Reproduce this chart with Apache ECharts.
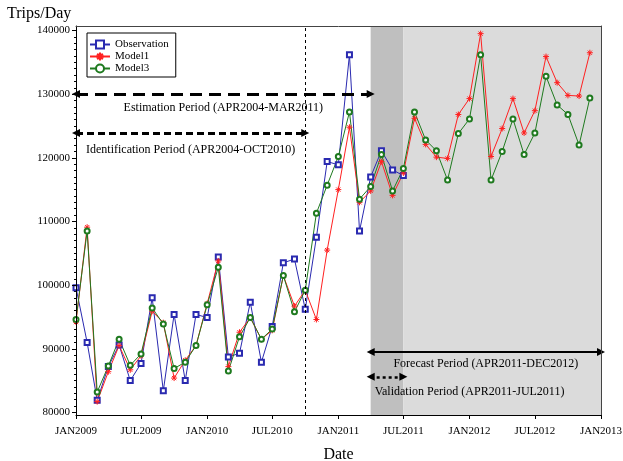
<!DOCTYPE html>
<html>
<head>
<meta charset="utf-8">
<script src="https://cdn.jsdelivr.net/npm/echarts@6/dist/echarts.min.js"></script>
<style>
html, body { margin: 0; padding: 0; background: #fff; }
#trips { width: 623px; height: 461px; }
</style>
</head>
<body>
<div id="trips"></div>
<script>
// monthly points, first of each month
var months = [
    '2009-01', '2009-02', '2009-03', '2009-04', '2009-05', '2009-06',
    '2009-07', '2009-08', '2009-09', '2009-10', '2009-11', '2009-12',
    '2010-01', '2010-02', '2010-03', '2010-04', '2010-05', '2010-06',
    '2010-07', '2010-08', '2010-09', '2010-10', '2010-11', '2010-12',
    '2011-01', '2011-02', '2011-03', '2011-04', '2011-05', '2011-06',
    '2011-07', '2011-08', '2011-09', '2011-10', '2011-11', '2011-12',
    '2012-01', '2012-02', '2012-03', '2012-04', '2012-05', '2012-06',
    '2012-07', '2012-08', '2012-09', '2012-10', '2012-11', '2012-12'
];

var observation = [
    99600, 91000, 81900, 87200, 90600, 85000, 87700, 98000, 83400, 95400, 85000, 95400,
    94900, 104400, 88700, 89300, 97300, 87900, 93500, 103500, 104100, 96200, 107500, 119400,
    118900, 136200, 108500, 117000, 121100, 118100, 117200
];

var model1 = [
    94200, 109100, 81700, 86400, 90500, 86700, 88900, 95900, 94100, 85400, 88200, 90500,
    97100, 103800, 87200, 92600, 94900, 91500, 92900, 101500, 96700, 99200, 94600, 105500,
    115000, 124800, 113000, 114800, 119400, 114100, 117600, 126200, 122100, 120100, 119900, 126800,
    129300, 139500, 120200, 124600, 129300, 123900, 127400, 135900, 131800, 129800, 129700, 136500
];

var model3 = [
    94600, 108500, 83200, 87300, 91500, 87400, 89200, 96400, 93900, 86900, 87900, 90500,
    96900, 102800, 86500, 91900, 94900, 91500, 93100, 101500, 95800, 99200, 111300, 115700,
    120200, 127200, 113500, 115500, 120500, 114800, 118300, 127200, 122800, 121100, 116500, 123800,
    126100, 136200, 116500, 121000, 126100, 120500, 123900, 132800, 128300, 126800, 122000, 129400
];

var xTickDates = ['2009-01-01', '2009-07-01', '2010-01-01', '2010-07-01', '2011-01-01',
    '2011-07-01', '2012-01-01', '2012-07-01', '2013-01-01'];
var xTickLabels = ['JAN2009', 'JUL2009', 'JAN2010', 'JUL2010', 'JAN2011',
    'JUL2011', 'JAN2012', 'JUL2012', 'JAN2013'];
var yTicks = [80000, 90000, 100000, 110000, 120000, 130000, 140000];

// periods: [start, end, level, label]
var estimation = ['2009-01-01', '2011-04-01', 130000, 'Estimation Period (APR2004-MAR2011)'];
var identification = ['2009-01-01', '2010-10-01', 123900, 'Identification Period (APR2004-OCT2010)'];
var forecast = ['2011-04-01', '2013-01-01', 89500, 'Forecast Period (APR2011-DEC2012)'];
var validation = ['2011-04-01', '2011-07-01', 85600, 'Validation Period (APR2011-JUL2011)'];
var cutDate = '2010-10-01';

function toTime(s) {
    if (s.length === 7) s += '-01';
    return new Date(s + 'T00:00:00').getTime();
}
function pairs(vals) {
    return vals.map(function (v, i) { return [toTime(months[i]), v]; });
}

var yMinor = [];
for (var t = 80000; t <= 140000; t += 1000) yMinor.push(t);
var xTicks = xTickDates.map(toTime);

var FONT = 'Liberation Serif';
var xMin = toTime('2009-01-01'), xMax = toTime('2013-01-01');
var yMin = 79600, yMax = 140700;

function arrow(p, style, labelPos, dist) {
    return [
        {
            coord: [toTime(p[0]), p[2]],
            lineStyle: style,
            label: {
                show: true, formatter: p[3], position: labelPos, distance: dist,
                color: '#000', fontFamily: FONT, fontSize: 12
            }
        },
        { coord: [toTime(p[1]), p[2]] }
    ];
}

var myChart = echarts.init(document.getElementById('trips'));
option = {
    animation: false,
    backgroundColor: '#fff',
    textStyle: { fontFamily: FONT },
    title: {
        text: 'Trips/Day',
        left: 7, top: 6, padding: 0,
        textStyle: { fontFamily: FONT, fontSize: 16, fontWeight: 'normal', color: '#000' }
    },
    legend: {
        data: ['Observation', 'Model1', 'Model3'],
        orient: 'vertical',
        left: 87, top: 33,
        padding: [6, 7, 3, 2],
        itemGap: 1,
        itemWidth: 20, itemHeight: 10,
        backgroundColor: '#fff',
        borderColor: '#000', borderWidth: 1, borderRadius: 0,
        textStyle: { fontFamily: FONT, fontSize: 11, color: '#000' }
    },
    grid: { left: 76, right: 22, top: 26, bottom: 46, outerBoundsMode: 'none' },
    xAxis: [
        {
            type: 'value', min: xMin, max: xMax, z: 10,
            name: 'Date', nameLocation: 'middle', nameGap: 32,
            nameTextStyle: { fontFamily: FONT, fontSize: 16, color: '#000' },
            axisLine: { lineStyle: { color: '#000', width: 1 } },
            axisTick: { show: true, customValues: xTicks, length: 4, lineStyle: { color: '#000' } },
            axisLabel: {
                customValues: xTicks, margin: 11, color: '#000', fontFamily: FONT, fontSize: 11,
                formatter: function (v) {
                    var i = xTicks.indexOf(v);
                    return i >= 0 ? xTickLabels[i] : '';
                }
            },
            splitLine: { show: false }
        },
        {
            type: 'value', position: 'top', min: xMin, max: xMax, z: 10,
            axisLine: { lineStyle: { color: '#444', width: 1 } },
            axisTick: { show: false }, axisLabel: { show: false }, splitLine: { show: false }
        }
    ],
    yAxis: [
        {
            type: 'value', min: yMin, max: yMax, z: 10,
            axisLine: { show: true, lineStyle: { color: '#000', width: 1 } },
            axisTick: { show: true, customValues: yTicks, length: 4, lineStyle: { color: '#000' } },
            axisLabel: {
                customValues: yTicks, margin: 6, color: '#000', fontFamily: FONT, fontSize: 11,
                formatter: function (v) { return String(v); }
            },
            splitLine: { show: false }
        },
        {
            type: 'value', position: 'left', min: yMin, max: yMax,
            axisLine: { show: false },
            axisTick: { show: true, customValues: yMinor, length: 2, lineStyle: { color: '#000' } },
            axisLabel: { show: false }, splitLine: { show: false }
        },
        {
            type: 'value', position: 'right', min: yMin, max: yMax, z: 10,
            axisLine: { show: true, lineStyle: { color: '#444', width: 1 } },
            axisTick: { show: false }, axisLabel: { show: false }, splitLine: { show: false }
        }
    ],
    series: [
        {
            name: 'bands', type: 'line', data: [], z: 1, silent: true,
            markArea: {
                silent: true,
                data: [
                    [{ xAxis: toTime(validation[0]), itemStyle: { color: '#bfbfbf' } }, { xAxis: toTime(validation[1]) }],
                    [{ xAxis: toTime(validation[1]), itemStyle: { color: '#dbdbdb' } }, { xAxis: xMax }]
                ]
            }
        },
        {
            name: 'cut', type: 'line', data: [], z: 2, silent: true,
            markLine: {
                silent: true, symbol: 'none', animation: false,
                label: { show: false },
                lineStyle: { color: '#000', width: 1, type: [3, 3] },
                data: [{ xAxis: toTime(cutDate) }]
            }
        },
        {
            name: 'periods', type: 'line', data: [], z: 4, silent: true,
            markLine: {
                silent: true, symbol: ['triangle', 'triangle'], symbolSize: 8, animation: false,
                data: [
                    arrow(estimation, { color: '#000', width: 3, type: [12, 7] }, 'insideMiddleBottom', 8),
                    arrow(identification, { color: '#000', width: 3, type: [7, 4] }, 'insideMiddleBottom', 11),
                    arrow(forecast, { color: '#000', width: 2, type: 'solid' }, 'insideMiddleBottom', 6),
                    arrow(validation, { color: '#000', width: 2.5, type: [3, 3] }, 'insideStartBottom', [4, 9])
                ]
            }
        },
        {
            name: 'Observation', type: 'line', z: 3,
            data: pairs(observation),
            symbol: 'emptyRect', symbolSize: 5,
            lineStyle: { color: '#2a2ab0', width: 1 },
            itemStyle: { color: '#2a2ab0', borderWidth: 1 }
        },
        {
            name: 'Model1', type: 'line', z: 3,
            data: pairs(model1),
            symbol: 'path://M0,5L10,5M5,0L5,10M1.5,1.5L8.5,8.5M8.5,1.5L1.5,8.5', symbolSize: 6,
            lineStyle: { color: '#ff2020', width: 1 },
            itemStyle: { color: '#ff2020', borderColor: '#ff2020', borderWidth: 1 }
        },
        {
            name: 'Model3', type: 'line', z: 3,
            data: pairs(model3),
            symbol: 'emptyCircle', symbolSize: 5,
            lineStyle: { color: '#1f7a1f', width: 1 },
            itemStyle: { color: '#1f7a1f', borderWidth: 1 }
        }
    ]
};
myChart.setOption(option);
</script>
</body>
</html>
